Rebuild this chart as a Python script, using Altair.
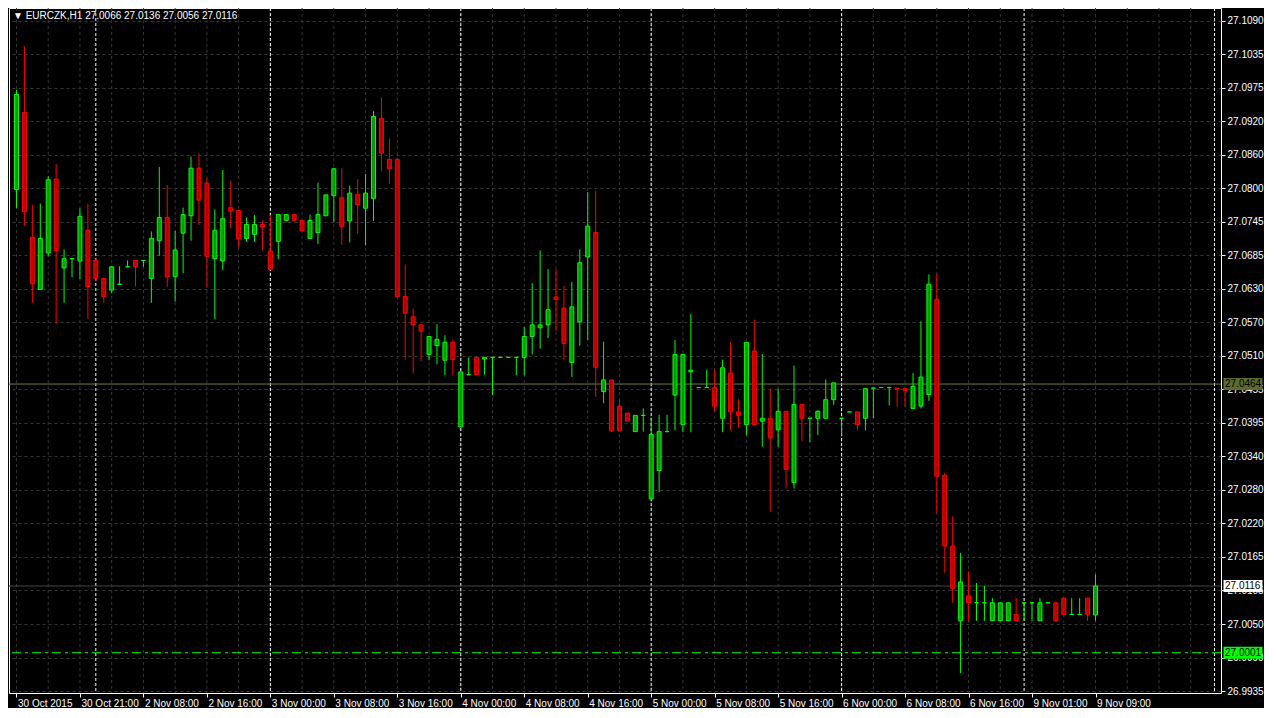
import altair as alt
import pandas as pd

# ---------------- data ----------------
opens = [27.0799, 27.0932, 27.0717, 27.0627, 27.0690, 27.0817, 27.0664, 27.0680, 27.0676, 27.0729,
         27.0677, 27.0646, 27.0626, 27.0636, 27.0666, 27.0677, 27.0677, 27.0646, 27.0711, 27.0751,
         27.0649, 27.0724, 27.0754, 27.0836, 27.0810, 27.0680, 27.0676, 27.0768, 27.0763, 27.0715,
         27.0722, 27.0739, 27.0693, 27.0710, 27.0746, 27.0756, 27.0746, 27.0715, 27.0725, 27.0754,
         27.0789, 27.0785, 27.0745, 27.0791, 27.0767, 27.0784, 27.0922, 27.0851, 27.0851, 27.0615,
         27.0580, 27.0566, 27.0515, 27.0530, 27.0505, 27.0536, 27.0390, 27.0480, 27.0510, 27.0507,
         27.0510, 27.0510, 27.0510, 27.0510, 27.0510, 27.0546, 27.0561, 27.0566, 27.0614, 27.0595,
         27.0501, 27.0571, 27.0683, 27.0725, 27.0451, 27.0471, 27.0426, 27.0414, 27.0382, 27.0410,
         27.0266, 27.0315, 27.0382, 27.0445, 27.0394, 27.0485, 27.0458, 27.0458, 27.0458, 27.0405,
         27.0483, 27.0416, 27.0394, 27.0521, 27.0400, 27.0405, 27.0385, 27.0417, 27.0294, 27.0429,
         27.0405, 27.0405, 27.0405, 27.0437, 27.0405, 27.0416, 27.0416, 27.0405, 27.0457, 27.0458,
         27.0458, 27.0457, 27.0456, 27.0422, 27.0426, 27.0446, 27.0610, 27.0307, 27.0185, 27.0056,
         27.0099, 27.0087, 27.0087, 27.0056, 27.0056, 27.0056, 27.0067, 27.0087, 27.0087, 27.0056,
         27.0087, 27.0087, 27.0095, 27.0067, 27.0067, 27.0095, 27.0066]
highs = [27.0971, 27.1046, 27.0773, 27.0775, 27.0822, 27.0843, 27.0696, 27.0680, 27.0767, 27.0775,
         27.0680, 27.0646, 27.0666, 27.0667, 27.0677, 27.0677, 27.0677, 27.0727, 27.0838, 27.0807,
         27.0728, 27.0768, 27.0856, 27.0861, 27.0819, 27.0765, 27.0833, 27.0814, 27.0763, 27.0751,
         27.0755, 27.0746, 27.0755, 27.0756, 27.0756, 27.0756, 27.0746, 27.0756, 27.0811, 27.0790,
         27.0835, 27.0836, 27.0806, 27.0817, 27.0826, 27.0934, 27.0958, 27.0887, 27.0854, 27.0670,
         27.0594, 27.0566, 27.0546, 27.0567, 27.0548, 27.0541, 27.0485, 27.0510, 27.0510, 27.0510,
         27.0510, 27.0510, 27.0510, 27.0510, 27.0562, 27.0638, 27.0694, 27.0662, 27.0662, 27.0633,
         27.0640, 27.0696, 27.0795, 27.0797, 27.0537, 27.0471, 27.0437, 27.0414, 27.0410, 27.0422,
         27.0405, 27.0411, 27.0411, 27.0540, 27.0515, 27.0585, 27.0458, 27.0489, 27.0489, 27.0506,
         27.0536, 27.0438, 27.0536, 27.0575, 27.0516, 27.0456, 27.0456, 27.0417, 27.0496, 27.0429,
         27.0405, 27.0419, 27.0472, 27.0466, 27.0405, 27.0416, 27.0416, 27.0456, 27.0457, 27.0458,
         27.0458, 27.0457, 27.0456, 27.0483, 27.0572, 27.0653, 27.0654, 27.0311, 27.0236, 27.0173,
         27.0141, 27.0121, 27.0116, 27.0095, 27.0087, 27.0087, 27.0095, 27.0087, 27.0087, 27.0095,
         27.0087, 27.0087, 27.0095, 27.0095, 27.0095, 27.0095, 27.0136]
lows = [27.0767, 27.0737, 27.0604, 27.0626, 27.0684, 27.0568, 27.0604, 27.0648, 27.0645, 27.0576,
        27.0641, 27.0604, 27.0620, 27.0636, 27.0666, 27.0632, 27.0666, 27.0604, 27.0685, 27.0632,
        27.0606, 27.0655, 27.0711, 27.0738, 27.0630, 27.0576, 27.0660, 27.0733, 27.0699, 27.0709,
        27.0709, 27.0694, 27.0661, 27.0679, 27.0746, 27.0746, 27.0728, 27.0715, 27.0705, 27.0754,
        27.0743, 27.0704, 27.0708, 27.0723, 27.0703, 27.0745, 27.0831, 27.0809, 27.0615, 27.0506,
        27.0482, 27.0503, 27.0505, 27.0498, 27.0479, 27.0479, 27.0390, 27.0480, 27.0480, 27.0480,
        27.0445, 27.0510, 27.0510, 27.0479, 27.0479, 27.0515, 27.0525, 27.0543, 27.0555, 27.0505,
        27.0476, 27.0530, 27.0540, 27.0442, 27.0431, 27.0382, 27.0383, 27.0400, 27.0382, 27.0382,
        27.0264, 27.0278, 27.0382, 27.0384, 27.0381, 27.0381, 27.0458, 27.0458, 27.0416, 27.0381,
        27.0384, 27.0389, 27.0376, 27.0394, 27.0356, 27.0244, 27.0356, 27.0284, 27.0284, 27.0366,
        27.0364, 27.0376, 27.0405, 27.0428, 27.0374, 27.0416, 27.0384, 27.0384, 27.0405, 27.0458,
        27.0427, 27.0425, 27.0425, 27.0422, 27.0422, 27.0435, 27.0242, 27.0139, 27.0087, 26.9966,
        27.0056, 27.0056, 27.0056, 27.0056, 27.0056, 27.0056, 27.0056, 27.0056, 27.0056, 27.0056,
        27.0087, 27.0056, 27.0067, 27.0067, 27.0067, 27.0056, 27.0056]
closes = [27.0963, 27.0761, 27.0637, 27.0715, 27.0816, 27.0694, 27.0680, 27.0680, 27.0753, 27.0632,
          27.0646, 27.0615, 27.0666, 27.0636, 27.0666, 27.0666, 27.0677, 27.0715, 27.0751, 27.0649,
          27.0695, 27.0756, 27.0836, 27.0781, 27.0684, 27.0729, 27.0749, 27.0762, 27.0714, 27.0739,
          27.0739, 27.0735, 27.0661, 27.0756, 27.0756, 27.0746, 27.0728, 27.0746, 27.0756, 27.0790,
          27.0835, 27.0735, 27.0793, 27.0773, 27.0793, 27.0925, 27.0862, 27.0835, 27.0615, 27.0586,
          27.0566, 27.0555, 27.0546, 27.0541, 27.0536, 27.0506, 27.0485, 27.0480, 27.0480, 27.0510,
          27.0510, 27.0510, 27.0510, 27.0510, 27.0546, 27.0566, 27.0566, 27.0592, 27.0610, 27.0534,
          27.0597, 27.0673, 27.0736, 27.0493, 27.0471, 27.0383, 27.0383, 27.0400, 27.0410, 27.0410,
          27.0377, 27.0382, 27.0382, 27.0515, 27.0515, 27.0488, 27.0458, 27.0458, 27.0426, 27.0492,
          27.0416, 27.0410, 27.0536, 27.0394, 27.0405, 27.0371, 27.0417, 27.0317, 27.0429, 27.0405,
          27.0405, 27.0417, 27.0437, 27.0466, 27.0405, 27.0416, 27.0394, 27.0456, 27.0457, 27.0458,
          27.0458, 27.0456, 27.0453, 27.0460, 27.0476, 27.0636, 27.0305, 27.0185, 27.0112, 27.0123,
          27.0087, 27.0087, 27.0087, 27.0087, 27.0087, 27.0087, 27.0056, 27.0087, 27.0087, 27.0087,
          27.0087, 27.0056, 27.0067, 27.0067, 27.0067, 27.0067, 27.0116]
bar_index = list(range(len(opens)))

x_tick_bars = list(range(0, 137, 8))
x_tick_labels = ["30 Oct 2015", "30 Oct 21:00", "2 Nov 08:00", "2 Nov 16:00", "3 Nov 00:00",
                 "3 Nov 08:00", "3 Nov 16:00", "4 Nov 00:00", "4 Nov 08:00", "4 Nov 16:00",
                 "5 Nov 00:00", "5 Nov 08:00", "5 Nov 16:00", "6 Nov 00:00", "6 Nov 08:00",
                 "6 Nov 16:00", "9 Nov 01:00", "9 Nov 09:00"]
y_tick_labels = ["27.1090", "27.1035", "27.0975", "27.0920", "27.0860", "27.0800", "27.0745",
                 "27.0685", "27.0630", "27.0570", "27.0510", "27.0455", "27.0395", "27.0340",
                 "27.0280", "27.0220", "27.0165", "27.0105", "27.0050", "26.9990", "26.9935"]
day_start_bars = [10, 32, 56, 80, 104, 127, 151]
grid_bars = list(range(0, 152, 4))
symbol = "EURCZK,H1"
level_price = 27.0464
bid_price = 27.0116
ask_price = 27.0001

# ---------------- layout / style ----------------
FONT = "Liberation Sans"
W, H = 1212, 685
BAR_PX = 8
x0 = -0.3125
x_domain = [x0, x0 + W / BAR_PX]
y_domain = [26.99316, 27.1112]

UP_LINE, DOWN_LINE = "#00ff00", "#ff0000"
UP_FILL, DOWN_FILL = "#089a08", "#b80000"
GRID = "#363636"

df = pd.DataFrame({"i": bar_index, "open": opens, "high": highs, "low": lows, "close": closes})
df["dir"] = ["up" if c >= o else "down" for o, c in zip(opens, closes)]

# y ticks evenly spaced between first and last label (MT4 grid)
n = len(y_tick_labels)
y_top, y_bot = float(y_tick_labels[0]), float(y_tick_labels[-1])
y_vals = [round(y_top - k * (y_top - y_bot) / (n - 1), 6) for k in range(n)]
y_label_expr = ("[" + ",".join(f"'{s}'" for s in y_tick_labels) + "][indexof(["
                + ",".join(repr(v) for v in y_vals) + "], datum.value)]")
x_label_expr = ("[" + ",".join(f"'{s}'" for s in x_tick_labels) + "][indexof(["
                + ",".join(str(v) for v in x_tick_bars) + "], datum.value)]")

xs = alt.Scale(domain=x_domain, nice=False, zero=False)
ys = alt.Scale(domain=y_domain, nice=False, zero=False)

x_axis = alt.Axis(values=x_tick_bars, labelExpr=x_label_expr, orient="bottom", grid=False,
                  domain=False, ticks=True, tickColor="#ffffff", tickSize=4,
                  labelColor="#ffffff", labelFont=FONT, labelFontSize=10, labelAlign="left",
                  labelBaseline="top", labelPadding=1, labelOffset=1, labelOverlap=False,
                  labelFlush=False, labelBound=False, title=None)
y_axis = alt.Axis(values=y_vals, labelExpr=y_label_expr, orient="right", grid=True,
                  gridColor=GRID, gridDash=[3, 3], gridWidth=1, domain=False,
                  tickColor="#ffffff", tickSize=4, labelColor="#ffffff", labelFont=FONT,
                  labelFontSize=10, labelPadding=2, labelOverlap=False, labelFlush=False,
                  labelBound=False, title=None)


def X(field):
    return alt.X(field, scale=xs, axis=x_axis)


def Y(field):
    return alt.Y(field, scale=ys, axis=y_axis)


stroke_scale = alt.Scale(domain=["up", "down"], range=[UP_LINE, DOWN_LINE])
fill_scale = alt.Scale(domain=["up", "down"], range=[UP_FILL, DOWN_FILL])

# vertical grid and day separators
vgrid = alt.Chart(pd.DataFrame({"i": grid_bars})).mark_rule(
    color=GRID, strokeDash=[3, 3], strokeWidth=1, clip=True
).encode(x=X("i:Q"))

seps = alt.Chart(pd.DataFrame({"i": day_start_bars})).mark_rule(
    color="#ffffff", strokeDash=[3, 2], strokeWidth=1, clip=True
).encode(x=X("i:Q"))

# horizontal price lines
level_line = alt.Chart(pd.DataFrame({"p": [level_price]})).mark_rule(
    color="#6e7c48", strokeWidth=1
).encode(y=Y("p:Q"))
bid_line = alt.Chart(pd.DataFrame({"p": [bid_price]})).mark_rule(
    color="#444444", strokeWidth=1
).encode(y=Y("p:Q"))
ask_line = alt.Chart(pd.DataFrame({"p": [ask_price]})).mark_rule(
    color="#00ff00", strokeWidth=1, strokeDash=[9, 4, 3, 4]
).encode(y=Y("p:Q"))

# candles
wicks = alt.Chart(df).mark_rule(strokeWidth=1, clip=True).encode(
    x=X("i:Q"),
    y=Y("low:Q"),
    y2="high:Q",
    stroke=alt.Stroke("dir:N", scale=stroke_scale, legend=None),
)
bodies = alt.Chart(df).mark_bar(width=4, strokeWidth=1, clip=True).encode(
    x=X("i:Q"),
    y=Y("open:Q"),
    y2="close:Q",
    fill=alt.Fill("dir:N", scale=fill_scale, legend=None),
    stroke=alt.Stroke("dir:N", scale=stroke_scale, legend=None),
)

# price tags on the right axis
tags = pd.DataFrame({
    "p": [level_price, bid_price, ask_price],
    "label": [f"{level_price:.4f}", f"{bid_price:.4f}", f"{ask_price:.4f}"],
    "kind": ["level", "bid", "ask"],
})
tag_scale = alt.Scale(domain=["level", "bid", "ask"], range=["#5c6c30", "#ffffff", "#00ff00"])
tag_boxes = alt.Chart(tags).mark_tick(orient="horizontal", size=39, thickness=12, opacity=1).encode(
    x=alt.value(W + 22),
    y=Y("p:Q"),
    color=alt.Color("kind:N", scale=tag_scale, legend=None),
)
tag_text = alt.Chart(tags).mark_text(
    align="left", baseline="middle", font=FONT, fontSize=10, color="#000000"
).encode(x=alt.value(W + 4), y=Y("p:Q"), text="label:N")

# header
o, hh, ll, c = opens[-1], highs[-1], lows[-1], closes[-1]
header_text = f"\u25BC {symbol}  {o:.4f} {hh:.4f} {ll:.4f} {c:.4f}"
header = alt.Chart(pd.DataFrame({"t": [header_text]})).mark_text(
    align="left", baseline="middle", font=FONT, fontSize=10, color="#ffffff"
).encode(x=alt.value(4), y=alt.value(8), text="t:N")

chart = alt.layer(
    vgrid, seps, level_line, bid_line, ask_line, wicks, bodies, tag_boxes, tag_text, header
).properties(
    width=W, height=H, padding={"left": 0, "top": 0, "right": 0, "bottom": 0}
).configure(
    background="#000000"
).configure_axis(
    labelOverlap=False, labelBound=False
).configure_view(
    stroke="#ffffff", strokeWidth=1, fill="#000000"
)

chart.save("out.html", embed_options={"renderer": "svg", "actions": False})
